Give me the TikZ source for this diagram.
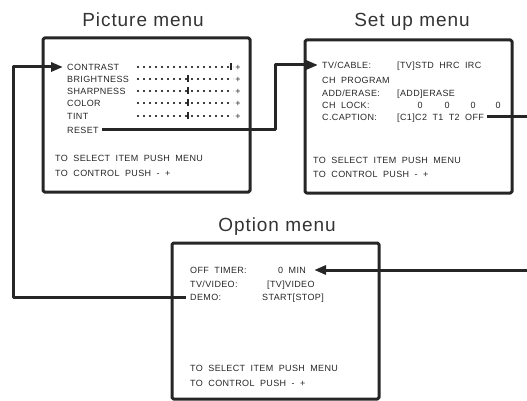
\documentclass[tikz,border=0pt]{standalone}
\usepackage{fontspec}
\setmainfont{Liberation Sans}
\newfontfamily\scrfont[LetterSpace=4]{Liberation Sans}
\newfontfamily\ttlfont[LetterSpace=5]{Liberation Sans}
\newcommand\scrtype{\scrfont\fontsize{9}{10}\selectfont\spaceskip=5.5pt\relax}
\usetikzlibrary{arrows.meta}
\tikzset{
  menubox/.style={draw=black!85,line width=3pt,rounded corners=1.5pt},
  ttl/.style={font=\ttlfont\fontsize{19}{22}\selectfont,text=black!80,anchor=base,inner sep=0pt},
  item/.style={font=\scrtype,text=black!85,inner sep=0pt,anchor=west,text height=6.5pt,text depth=0pt},
  link/.style={draw=black!85,line width=3pt,-{Triangle[length=12pt,width=9pt]}},
  slider/.style={black!75,line width=1.1pt,dash pattern=on 1.6pt off 4.4pt},
  knob/.style={black!85,line width=2.2pt},
}

\begin{document}
\begin{tikzpicture}[x=1pt,y=-1pt,line join=round]
\useasboundingbox (0,0) rectangle (527,401);
\clip (0,0) rectangle (527,401);
% --- picture menu
\node[ttl] (pictitle) at (143,27) {Picture menu};
\draw[menubox] (43,38) rectangle (250,192);
\node[item] (contrast) at (67,67) {CONTRAST};
\node[item] (bright) at (67,79) {BRIGHTNESS};
\node[item] (sharp) at (67,91) {SHARPNESS};
\node[item] (color) at (67,103) {COLOR};
\node[item] (tint) at (67,116) {TINT};
\node[item] (reset) at (67,130) {RESET};
\foreach \y/\k in {67/231,79/188,91/188,103/188,116/188}{
  \draw[slider] (137,\y) -- (233,\y);
  \draw[knob] (\k,\y-3.5) -- (\k,\y+3.5);
  \node[item,anchor=center] at (238,\y) {+};
}
\node[item] (picsel) at (55,158) {TO SELECT ITEM PUSH MENU};
\node[item] (picctl) at (55,173) {TO CONTROL PUSH - +};
% --- set up menu
\node[ttl] (setuptitle) at (412,27) {Set up menu};
\draw[menubox] (305,40) rectangle (512,193);
\node[item] (tvcable) at (322,65) {TV/CABLE:};
\node[item] at (397,65) {[TV]STD HRC IRC};
\node[item] (chprog) at (322,80) {CH PROGRAM};
\node[item] (adderase) at (322,93) {ADD/ERASE:};
\node[item] at (397,93) {[ADD]ERASE};
\node[item] (chlock) at (322,105) {CH LOCK:};
\foreach \x in {420,447,473,498}
  \node[item,anchor=center] at (\x,105) {0};
\node[item] (ccaption) at (322,117) {C.CAPTION:};
\node[item] (ccval) at (397,117) {[C1]C2 T1 T2 OFF};
\node[item] (setsel) at (313,160) {TO SELECT ITEM PUSH MENU};
\node[item] (setctl) at (313,174) {TO CONTROL PUSH - +};
% --- option menu
\node[ttl] (opttitle) at (277,231) {Option menu};
\draw[menubox] (172,243) rectangle (379,399);
\node[item] (offtimer) at (190,270) {OFF TIMER:};
\node[item] (offval) at (278,270) {0 MIN};
\node[item] (tvvideo) at (190,284) {TV/VIDEO:};
\node[item] at (267,284) {[TV]VIDEO};
\node[item] (demo) at (190,297) {DEMO:};
\node[item] at (262,297) {START[STOP]};
\node[item] (optsel) at (190,368) {TO SELECT ITEM PUSH MENU};
\node[item] (optctl) at (190,383) {TO CONTROL PUSH - +};
% --- links
\coordinate (leftrail) at (13,0);
\coordinate (midrail) at (275,0);
\coordinate (rightrail) at (545,0);
\draw[link,shorten >=4pt] ([xshift=-4pt]demo.west) -- (demo.west -| leftrail) |- (contrast.west);
\draw[link,shorten >=4pt] ([xshift=3pt]reset.east) -- (reset.east -| midrail) |- (tvcable.west);
\draw[link,shorten >=8pt] ([xshift=3pt]ccval.east) -- (ccval.east -| rightrail) |- (offval.east);
\end{tikzpicture}
\end{document}
